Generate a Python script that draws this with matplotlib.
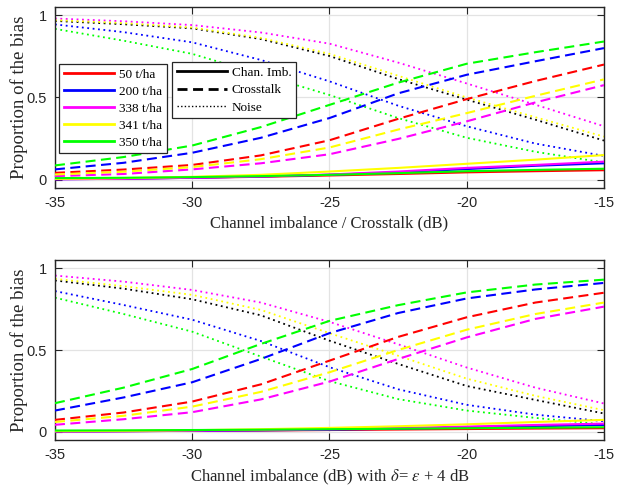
import matplotlib
matplotlib.use("Agg")
import matplotlib.pyplot as plt
from matplotlib.lines import Line2D

# ---------------- data ----------------
x = [-35, -32.5, -30, -27.5, -25, -22.5, -20, -17.5, -15]
series_names = ["50 t/ha", "200 t/ha", "338 t/ha", "341 t/ha", "350 t/ha"]
series_colors = ["#ff0000", "#0000ff", "#ff00ff", "#ffff00", "#00ff00"]

# Top panel: Channel imbalance / Crosstalk
top_chan = {
    "50 t/ha":  [0.005, 0.008, 0.012, 0.018, 0.026, 0.035, 0.045, 0.052, 0.058],
    "200 t/ha": [0.003, 0.006, 0.012, 0.020, 0.030, 0.045, 0.065, 0.085, 0.100],
    "338 t/ha": [0.003, 0.006, 0.012, 0.020, 0.032, 0.050, 0.072, 0.090, 0.110],
    "341 t/ha": [0.005, 0.010, 0.018, 0.030, 0.050, 0.072, 0.097, 0.122, 0.150],
    "350 t/ha": [0.010, 0.012, 0.016, 0.022, 0.030, 0.040, 0.052, 0.060, 0.067],
}
top_cross = {
    "50 t/ha":  [0.042, 0.062, 0.090, 0.148, 0.240, 0.370, 0.490, 0.600, 0.700],
    "200 t/ha": [0.063, 0.103, 0.164, 0.255, 0.375, 0.525, 0.638, 0.720, 0.800],
    "338 t/ha": [0.022, 0.035, 0.063, 0.100, 0.155, 0.248, 0.355, 0.470, 0.575],
    "341 t/ha": [0.032, 0.049, 0.077, 0.125, 0.196, 0.305, 0.405, 0.510, 0.610],
    "350 t/ha": [0.087, 0.138, 0.208, 0.320, 0.455, 0.590, 0.705, 0.775, 0.840],
}
top_noise = {
    "50 t/ha":  [0.965, 0.945, 0.920, 0.855, 0.752, 0.612, 0.487, 0.365, 0.238],
    "200 t/ha": [0.944, 0.897, 0.835, 0.728, 0.598, 0.450, 0.325, 0.220, 0.145],
    "338 t/ha": [0.980, 0.963, 0.940, 0.895, 0.827, 0.712, 0.585, 0.456, 0.325],
    "341 t/ha": [0.970, 0.952, 0.925, 0.862, 0.765, 0.632, 0.500, 0.380, 0.262],
    "350 t/ha": [0.917, 0.845, 0.765, 0.640, 0.515, 0.375, 0.255, 0.170, 0.105],
}
# Bottom panel: Channel imbalance with delta = eps + 4 dB
bot_chan = {
    "50 t/ha":  [0.003, 0.004, 0.006, 0.008, 0.011, 0.014, 0.017, 0.020, 0.022],
    "200 t/ha": [0.002, 0.004, 0.006, 0.009, 0.013, 0.019, 0.026, 0.034, 0.042],
    "338 t/ha": [0.002, 0.004, 0.007, 0.011, 0.016, 0.023, 0.032, 0.042, 0.050],
    "341 t/ha": [0.004, 0.006, 0.010, 0.016, 0.024, 0.034, 0.046, 0.060, 0.073],
    "350 t/ha": [0.008, 0.009, 0.011, 0.013, 0.016, 0.019, 0.022, 0.025, 0.028],
}
bot_cross = {
    "50 t/ha":  [0.073, 0.118, 0.185, 0.290, 0.435, 0.580, 0.700, 0.790, 0.850],
    "200 t/ha": [0.130, 0.210, 0.303, 0.445, 0.603, 0.726, 0.815, 0.870, 0.910],
    "338 t/ha": [0.043, 0.077, 0.120, 0.198, 0.307, 0.445, 0.577, 0.690, 0.765],
    "341 t/ha": [0.060, 0.098, 0.154, 0.244, 0.364, 0.500, 0.624, 0.720, 0.790],
    "350 t/ha": [0.175, 0.270, 0.384, 0.537, 0.678, 0.774, 0.852, 0.900, 0.930],
}
bot_noise = {
    "50 t/ha":  [0.925, 0.875, 0.810, 0.712, 0.557, 0.415, 0.280, 0.195, 0.112],
    "200 t/ha": [0.860, 0.775, 0.685, 0.555, 0.395, 0.260, 0.165, 0.105, 0.065],
    "338 t/ha": [0.955, 0.918, 0.867, 0.790, 0.672, 0.535, 0.393, 0.270, 0.173],
    "341 t/ha": [0.935, 0.890, 0.837, 0.745, 0.603, 0.465, 0.325, 0.220, 0.132],
    "350 t/ha": [0.820, 0.720, 0.612, 0.460, 0.310, 0.200, 0.130, 0.085, 0.045],
}
noise_colors = {"50 t/ha": "#000000"}

style_names = ["Chan. Imb.", "Crosstalk", "Noise"]
xticks = [-35, -30, -25, -20, -15]
yticks = [0, 0.5, 1]
ytick_labels = ["0", "0.5", "1"]
ylabel = "Proportion of the bias"
xlabel_top = "Channel imbalance / Crosstalk (dB)"
xlabel_bot = r"Channel imbalance (dB) with $\delta$= $\epsilon$ + 4 dB"

# ---------------- style ----------------
plt.rcParams["mathtext.fontset"] = "stix"
SERIF = "Liberation Serif"
SANS = "Liberation Sans"
DASH = (0, (4.8, 2.6))
DOT = (0, (1, 2.0))

fig = plt.figure(figsize=(6.17, 4.87), dpi=100)
ax1 = fig.add_axes([0.0891, 0.614, 0.8898, 0.3717])
ax2 = fig.add_axes([0.0891, 0.0965, 0.8898, 0.3696])


def draw(ax, chan, cross, noise, xlabel):
    for name, col in zip(series_names, series_colors):
        ax.plot(x, noise[name], color=noise_colors.get(name, col), linestyle=DOT, lw=1.3, zorder=2)
    for name, col in zip(series_names, series_colors):
        ax.plot(x, cross[name], color=col, linestyle=DASH, lw=1.5, zorder=3)
    for name, col in zip(series_names, series_colors):
        ax.plot(x, chan[name], color=col, linestyle="-", lw=1.5, zorder=4)
    ax.set_xlim(-35, -15)
    ax.set_ylim(-0.05, 1.05)
    ax.set_xticks(xticks)
    ax.set_xticklabels([str(t) for t in xticks], fontfamily=SANS, fontsize=10.5)
    ax.set_yticks(yticks)
    ax.set_yticklabels(ytick_labels, fontfamily=SANS, fontsize=10.5)
    ax.tick_params(direction="in", top=True, right=True, length=5, width=0.8,
                   color="#262626", labelcolor="#262626", pad=6)
    ax.grid(True, color="#e3e3e3", lw=0.9)
    ax.set_axisbelow(True)
    for s in ax.spines.values():
        s.set_color("#262626")
        s.set_linewidth(1.0)
    ax.set_ylabel(ylabel, fontfamily=SERIF, fontsize=13.5, color="#262626", labelpad=-1)
    ax.set_xlabel(xlabel, fontfamily=SERIF, fontsize=12, color="#262626", labelpad=4)


draw(ax1, top_chan, top_cross, top_noise, xlabel_top)
draw(ax2, bot_chan, bot_cross, bot_noise, xlabel_bot)

# legends on top panel
h1 = [Line2D([], [], color=c, lw=2.0) for c in series_colors]
leg1 = ax1.legend(h1, series_names, loc="upper left", bbox_to_anchor=(0.0073, 0.685),
                  borderaxespad=0, prop={"family": SERIF, "size": 9.5},
                  handlelength=3.8, handletextpad=0.4, labelspacing=0.36,
                  borderpad=0.35, fancybox=False, framealpha=1, edgecolor="#262626")
leg1.get_frame().set_linewidth(0.9)
ax1.add_artist(leg1)

h2 = [Line2D([], [], color="k", lw=2.0, linestyle="-"),
      Line2D([], [], color="k", lw=2.0, linestyle=(0, (3.6, 2.0))),
      Line2D([], [], color="k", lw=1.0, linestyle=(0, (1, 1.6)))]
leg2 = ax1.legend(h2, style_names, loc="upper left", bbox_to_anchor=(0.213, 0.696),
                  borderaxespad=0, prop={"family": SERIF, "size": 9.5},
                  handlelength=3.8, handletextpad=0.4, labelspacing=0.4,
                  borderpad=0.35, fancybox=False, framealpha=1, edgecolor="#262626")
leg2.get_frame().set_linewidth(0.9)

fig.savefig("out.png", dpi=100)
